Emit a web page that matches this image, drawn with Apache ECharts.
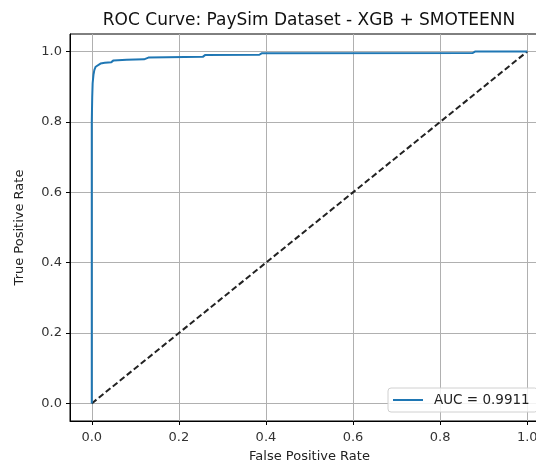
<!DOCTYPE html>
<html lang="en">
<head>
<meta charset="UTF-8">
<title>ROC Curve</title>
<style>
  * { margin: 0; padding: 0; }
  html, body { width: 536px; height: 464px; background: #fff; overflow: hidden; }
  #chart { width: 536px; height: 464px; }
</style>
</head>
<body>
<div id="chart"></div>
<script src="https://cdn.jsdelivr.net/npm/echarts@6/dist/echarts.min.js"></script>
<script>
// ROC points
var fpr = [0, 0, 0.001, 0.002, 0.004, 0.006, 0.009, 0.013, 0.02, 0.03, 0.045, 0.05, 0.08, 0.12, 0.13, 0.255, 0.26, 0.385, 0.39, 0.875, 0.88, 1.0];
var tpr = [0, 0.80, 0.87, 0.91, 0.935, 0.948, 0.957, 0.962, 0.966, 0.968, 0.970, 0.975, 0.977, 0.978, 0.983, 0.985, 0.990, 0.991, 0.995, 0.996, 1.0, 1.0];
var diagX = [0, 1];
var diagY = [0, 1];
var tickValues = [0, 0.2, 0.4, 0.6, 0.8, 1.0];
var aucLabel = 'AUC = 0.9911';

function pairs(xs, ys) {
  var out = [];
  for (var i = 0; i < xs.length; i++) out.push([xs[i], ys[i]]);
  return out;
}

var font = 'DejaVu Sans';

function axisCommon(name) {
  return {
    type: 'value',
    min: -0.05,
    max: 1.05,
    name: name,
    nameLocation: 'middle',
    nameTextStyle: { fontFamily: font, fontSize: 13, color: '#222' },
    axisLine: { show: true, onZero: false, lineStyle: { color: '#000', width: 1 } },
    axisTick: { show: true, length: 4, customValues: tickValues, lineStyle: { color: '#000' } },
    axisLabel: {
      customValues: tickValues,
      fontFamily: font, fontSize: 13, color: '#333',
      formatter: function (v) { return v.toFixed(1); }
    },
    splitLine: { show: true, lineStyle: { color: '#b0b0b0', width: 1 } }
  };
}

var chart = echarts.init(document.getElementById('chart'), null, { renderer: 'canvas' });

var xAxis = axisCommon('False Positive Rate');
xAxis.nameGap = 29;
xAxis.axisLabel.margin = 10;
var yAxis = axisCommon('True Positive Rate');
yAxis.nameGap = 44;
yAxis.axisLabel.margin = 8;

chart.setOption({
  animation: false,
  title: {
    text: 'ROC Curve: PaySim Dataset - XGB + SMOTEENN',
    left: 304,
    top: 7,
    textAlign: 'center',
    textStyle: { fontFamily: font, fontSize: 17, fontWeight: 'normal', color: '#111' }
  },
  grid: {
    left: 70, top: 34, width: 479, height: 387,
    outerBoundsMode: 'none',
    show: true, borderColor: '#000', borderWidth: 1, backgroundColor: '#fff'
  },
  xAxis: xAxis,
  yAxis: yAxis,
  legend: {
    left: 388, top: 388,
    orient: 'horizontal',
    backgroundColor: 'rgba(255,255,255,0.85)',
    borderColor: '#d0d0d0', borderWidth: 1, borderRadius: 3,
    padding: [5, 8, 5, 4],
    itemWidth: 30, itemHeight: 2, itemGap: 8,
    textStyle: { fontFamily: font, fontSize: 13.5, color: '#222', padding: [0, 0, 0, 6] },
    data: [aucLabel]
  },
  series: [
    {
      name: aucLabel,
      type: 'line',
      symbol: 'none',
      data: pairs(fpr, tpr),
      lineStyle: { color: '#1f77b4', width: 2 },
      itemStyle: { color: '#1f77b4' },
      z: 3
    },
    {
      name: 'diag',
      type: 'line',
      symbol: 'none',
      data: pairs(diagX, diagY),
      lineStyle: { color: '#222', width: 2, type: [6, 3] },
      z: 2
    }
  ]
});
</script>
</body>
</html>
